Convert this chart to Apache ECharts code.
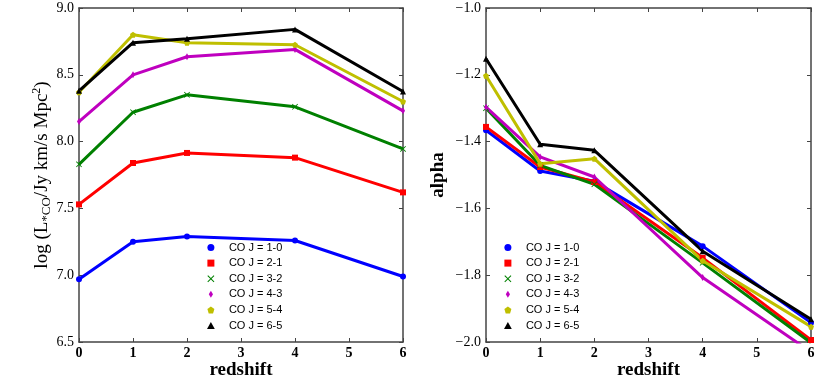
<!DOCTYPE html>
<html>
<head>
<meta charset="utf-8">
<title>CO luminosity and alpha vs redshift</title>
<script src="https://cdn.jsdelivr.net/npm/echarts@6/dist/echarts.min.js"></script>
<style>
  html, body { margin: 0; padding: 0; background: #fff; }
  #chart { width: 831px; height: 380px; }
</style>
</head>
<body>
<div id="chart"></div>
<script>
// redshift bins
const redshift = [0, 1, 2, 4, 6];

// log L_CO per transition (left panel)
const lumCO10 = [6.97, 7.25, 7.29, 7.26, 6.99];
const lumCO21 = [7.53, 7.84, 7.915, 7.88, 7.62];
const lumCO32 = [7.83, 8.22, 8.35, 8.26, 7.945];
const lumCO43 = [8.15, 8.50, 8.635, 8.69, 8.23];
const lumCO54 = [8.37, 8.80, 8.74, 8.725, 8.30];
const lumCO65 = [8.38, 8.74, 8.77, 8.84, 8.375];

// faint-end slope alpha per transition (right panel)
const alpha10 = [-1.366, -1.488, -1.519, -1.713, -1.942];
const alpha21 = [-1.356, -1.476, -1.521, -1.748, -1.994];
const alpha32 = [-1.300, -1.471, -1.528, -1.763, -2.002];
const alpha43 = [-1.297, -1.446, -1.506, -1.807, -2.030];
const alpha54 = [-1.203, -1.466, -1.451, -1.757, -1.954];
const alpha65 = [-1.152, -1.408, -1.426, -1.728, -1.932];

const names = ["CO J = 1-0", "CO J = 2-1", "CO J = 3-2", "CO J = 4-3", "CO J = 5-4", "CO J = 6-5"];
const colors = ["#0000ff", "#ff0000", "#008000", "#bf00bf", "#bfbf00", "#000000"];
// circle, square, x, thin diamond, pentagon, triangle
const symbols = [
  "circle",
  "path://M0,0L10,0L10,10L0,10Z",
  "path://M1,0L5,4L9,0L10,1L6,5L10,9L9,10L5,6L1,10L0,9L4,5L0,1Z",
  "path://M3,0L6,5L3,10L0,5Z",
  "path://M5,0L10,3.8L8.1,10L1.9,10L0,3.8Z",
  "path://M5,0L10,9L0,9Z"
];
const symbolSizes = [6, 6, 6, [4, 7], 6, 6];

const lumSets = [lumCO10, lumCO21, lumCO32, lumCO43, lumCO54, lumCO65];
const alphaSets = [alpha10, alpha21, alpha32, alpha43, alpha54, alpha65];

const frame = "#444";
const serif = "'Liberation Serif', 'DejaVu Serif', serif";

function pairs(ys) {
  return redshift.map((x, i) => [x, ys[i]]);
}

function minus(v, d) {
  return (v < 0 ? "\u2212" : "") + Math.abs(v).toFixed(d);
}

// bottom/left axes carry labels, top/right only inward ticks
function xAx(grid, pos, labels) {
  return {
    type: "value", gridIndex: grid, position: pos, min: 0, max: 6, interval: 1,
    name: labels ? "redshift" : "", nameLocation: "middle", nameGap: 19, nameMoveOverlap: false,
    nameTextStyle: { fontFamily: serif, fontWeight: "bold", fontSize: 19, color: "#000" },
    axisLine: { show: true, onZero: false, lineStyle: { color: frame, width: 1.5 } },
    axisTick: { show: true, inside: true, length: 4, lineStyle: { color: frame } },
    axisLabel: { show: labels, margin: 4, fontFamily: serif, fontWeight: "bold", fontSize: 14, color: "#000" },
    splitLine: { show: false }
  };
}

function yAx(grid, pos, labels, min, max, step, fmt) {
  return {
    type: "value", gridIndex: grid, position: pos, min: min, max: max, interval: step,
    axisLine: { show: true, onZero: false, lineStyle: { color: frame, width: 1.5 } },
    axisTick: { show: true, inside: true, length: 4, lineStyle: { color: frame } },
    axisLabel: { show: labels, margin: 5, fontFamily: serif, fontSize: 14, color: "#000", formatter: fmt },
    splitLine: { show: false }
  };
}

const yLeft = yAx(0, "left", true, 6.5, 9.0, 0.5, v => v.toFixed(1));
yLeft.name = "{a|log (L}{s|*CO}{a|/Jy km/s Mpc}{p|2}{a|)}";
yLeft.nameLocation = "middle";
yLeft.nameGap = 26;
yLeft.nameMoveOverlap = false;
yLeft.nameTextStyle = {
  color: "#000",
  rich: {
    a: { fontFamily: serif, fontSize: 19, lineHeight: 22, color: "#000" },
    s: { fontFamily: serif, fontSize: 13, lineHeight: 13, verticalAlign: "bottom", color: "#000" },
    p: { fontFamily: serif, fontSize: 12, lineHeight: 12, verticalAlign: "top", color: "#000" }
  }
};

const yRight = yAx(1, "left", true, -2.0, -1.0, 0.2, v => minus(v, 1));
yRight.name = "alpha";
yRight.nameLocation = "middle";
yRight.nameGap = 38;
yRight.nameMoveOverlap = false;
yRight.nameTextStyle = { fontFamily: serif, fontWeight: "bold", fontSize: 19, color: "#000" };

const series = [];
names.forEach((n, i) => {
  const common = {
    name: n, type: "line", symbol: symbols[i], symbolSize: symbolSizes[i],
    lineStyle: { color: colors[i], width: 3 },
    itemStyle: { color: colors[i] },
    clip: true, animation: false
  };
  series.push(Object.assign({}, common, { xAxisIndex: 0, yAxisIndex: 0, data: pairs(lumSets[i]) }));
  series.push(Object.assign({}, common, { xAxisIndex: 2, yAxisIndex: 2, data: pairs(alphaSets[i]) }));
});

function legendAt(left) {
  return {
    orient: "vertical", left: left, top: 237, itemWidth: 26, itemHeight: 7, itemGap: 4.6,
    selectedMode: false, symbolKeepAspect: true,
    textStyle: { fontFamily: "'Liberation Sans', Arial, sans-serif", fontSize: 11, color: "#000" },
    data: names.map((n, i) => ({ name: n, icon: symbols[i] }))
  };
}

const myChart = echarts.init(document.getElementById("chart"), null, { renderer: "canvas" });
myChart.setOption({
  backgroundColor: "#fff",
  animation: false,
  grid: [
    { left: 79, right: 428, top: 8, bottom: 38, outerBoundsMode: "none" },
    { left: 486, right: 20, top: 8, bottom: 38, outerBoundsMode: "none" }
  ],
  xAxis: [xAx(0, "bottom", true), xAx(0, "top", false), xAx(1, "bottom", true), xAx(1, "top", false)],
  yAxis: [
    yLeft,
    yAx(0, "right", false, 6.5, 9.0, 0.5),
    yRight,
    yAx(1, "right", false, -2.0, -1.0, 0.2)
  ],
  legend: [legendAt(202), legendAt(499)],
  series: series
});
</script>
</body>
</html>
